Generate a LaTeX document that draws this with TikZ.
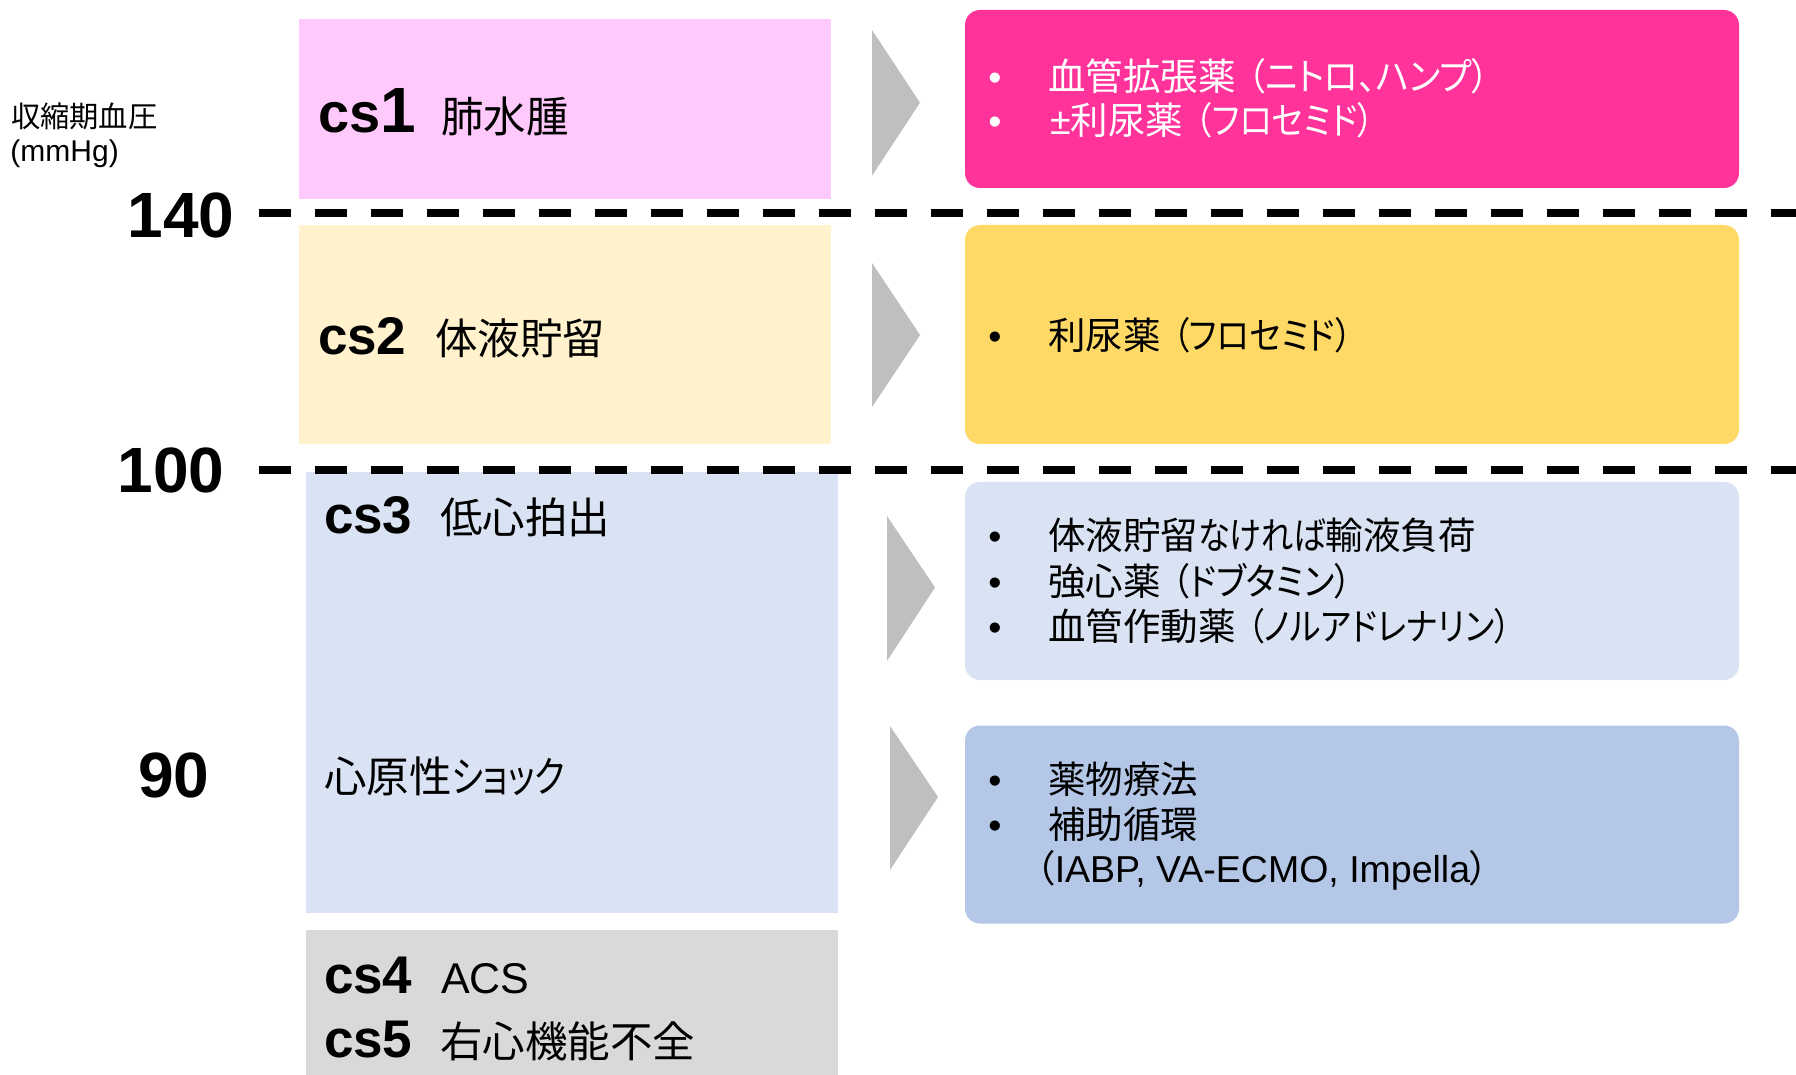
\documentclass[tikz,border=0pt]{standalone}
\usepackage{fontspec}
\usetikzlibrary{fit}
\setmainfont{Liberation Sans}
\newfontfamily\jp[RawFeature=+palt]{Noto Sans CJK JP}
\definecolor{lpink}{HTML}{FFC9FC}
\definecolor{lyellow}{HTML}{FFF2CC}
\definecolor{lblue}{HTML}{DAE3F3}
\definecolor{lgray}{HTML}{D9D9D9}
\definecolor{hpink}{HTML}{FF3399}
\definecolor{gold}{HTML}{FFD966}
\definecolor{mblue}{HTML}{B4C7E7}
\definecolor{chevgray}{HTML}{BFBFBF}
\newcommand{\fs}[1]{\fontsize{#1}{#1}\selectfont}
\newcommand{\jl}{\jp\fs{21.25pt}}
\newcommand{\jr}{\jp\fs{18.75pt}}
\newcommand{\csl}[1]{{\bfseries\fs{26.5pt}#1}}
\newcommand{\kn}[2][0.89]{\scalebox{#1}[1]{#2}}
\begin{document}
\begin{tikzpicture}[x=0.5pt,y=-0.5pt,
  box/.style={inner sep=0pt, outer sep=0pt, draw=none},
  rbox/.style={box, rounded corners=7.5pt},
  lbl/.style={anchor=base west, inner sep=0pt, outer sep=0pt},
  bul/.style={anchor=base, inner sep=0pt, outer sep=0pt, font=\fs{18.75pt}},
  num/.style={lbl, font=\bfseries\fs{32pt}},
  chev/.style={fill=chevgray, draw=none},
  dashline/.style={line width=4pt, dash pattern=on 16pt off 12pt, black}]
\useasboundingbox (0,0) rectangle (1796,1075);
\fill[white] (0,0) rectangle (1796,1075);
% left boxes
\node[box, fill=lpink, fit={(299,19.5) (831,199)}] (L1) {};
\node[box, fill=lyellow, fit={(299,225) (831,444)}] (L2) {};
\node[box, fill=lblue, fit={(306,472) (838,913)}] (L3) {};
\node[box, fill=lgray, fit={(306,930) (838,1075)}] (L4) {};
% right boxes
\node[rbox, fill=hpink, fit={(965,10) (1739,188)}] (RA) {};
\node[rbox, fill=gold, fit={(965,225) (1739,444)}] (RB) {};
\node[rbox, fill=lblue, fit={(965,482) (1739,680)}] (RC) {};
\node[rbox, fill=mblue, fit={(965,725.5) (1739,923.5)}] (RD) {};
% chevrons
\fill[chev] (872,30) -- (920,102.7) -- (872,175.7) -- cycle;
\fill[chev] (872,263) -- (920,335) -- (872,407) -- cycle;
\fill[chev] (887,516) -- (935,587.5) -- (887,661) -- cycle;
\fill[chev] (890,726) -- (938,797) -- (890,870) -- cycle;
% dashed lines
\coordinate (d1s) at (259.3,213);
\coordinate (d1e) at (1796,213);
\coordinate (d2s) at (259.3,470);
\coordinate (d2e) at (1796,470);
\draw[dashline] (d1s) -- (d1e);
\draw[dashline] (d2s) -- (d2e);
% axis
\node[lbl, font=\jp\fs{14.65pt}] (ax1) at (11,128) {収縮期血圧};
\node[lbl, font=\fs{15pt}] (ax2) at (10.5,162) {(mmHg)};
\node[num] (n140) at (127.5,238) {140};
\node[num] (n100) at (117.5,493) {100};
\node[num] (n90) at (138,797) {90};
% left labels
\node[lbl] (c1) at (318.5,133) {\bfseries\fs{28pt}cs\fs{32pt}1};
\node[lbl, font=\jl] (c1t) at (441,133) {肺水腫};
\node[lbl] (c2) at (318,355) {\csl{cs2}};
\node[lbl, font=\jl] (c2t) at (435,355) {体液貯留};
\node[lbl] (c3) at (324,533) {\csl{cs3}};
\node[lbl, font=\jl] (c3t) at (440,533) {低心拍出};
\node[lbl, font=\jl] (shock) at (324,792) {心原性\kn[0.8]{ショック}};
\node[lbl] (c4) at (324,993) {\csl{cs4}};
\node[lbl, font=\fs{21.5pt}] (c4t) at (441,993) {ACS};
\node[lbl] (c5) at (324,1057) {\csl{cs5}};
\node[lbl, font=\jl] (c5t) at (440,1057) {右心機能不全};
% right texts
\node[bul, text=white] (ba1) at (995,90.5) {•};
\node[lbl, font=\jr, text=white] (ta1) at (1048,90.5) {血管拡張薬\hspace{6pt}\kn[0.935]{（ニトロ、ハンプ）}};
\node[bul, text=white] (ba2) at (995,135) {•};
\node[lbl, font=\jr, text=white] (ta2) at (1050,135) {{\rmfamily ±}利尿薬\hspace{6pt}\kn{（フロセミド）}};
\node[bul] (bb1) at (995,350) {•};
\node[lbl, font=\jr] (tb1) at (1048,350) {利尿薬\hspace{6pt}\kn{（フロセミド）}};
\node[bul] (bc1) at (995,550) {•};
\node[lbl, font=\jr] (tc1) at (1048,550) {体液貯留\kn[0.86]{なければ}輸液負荷};
\node[bul] (bc2) at (995,596) {•};
\node[lbl, font=\jr] (tc2) at (1048,596) {強心薬\hspace{6pt}\kn[0.91]{（ドブタミン）}};
\node[bul] (bc3) at (995,640.5) {•};
\node[lbl, font=\jr] (tc3) at (1048,640.5) {血管作動薬\hspace{6pt}\kn[0.88]{（ノルアドレナリン）}};
\node[bul] (bd1) at (995,793) {•};
\node[lbl, font=\jr] (td1) at (1048,793) {薬物療法};
\node[bul] (bd2) at (995,838.5) {•};
\node[lbl, font=\jr] (td2) at (1048,838.5) {補助循環};
\node[lbl, font=\fs{18.75pt}] (td3) at (1036,882) {{\jp （}IABP, VA-ECMO, Impella{\jp ）}};
\end{tikzpicture}
\end{document}
